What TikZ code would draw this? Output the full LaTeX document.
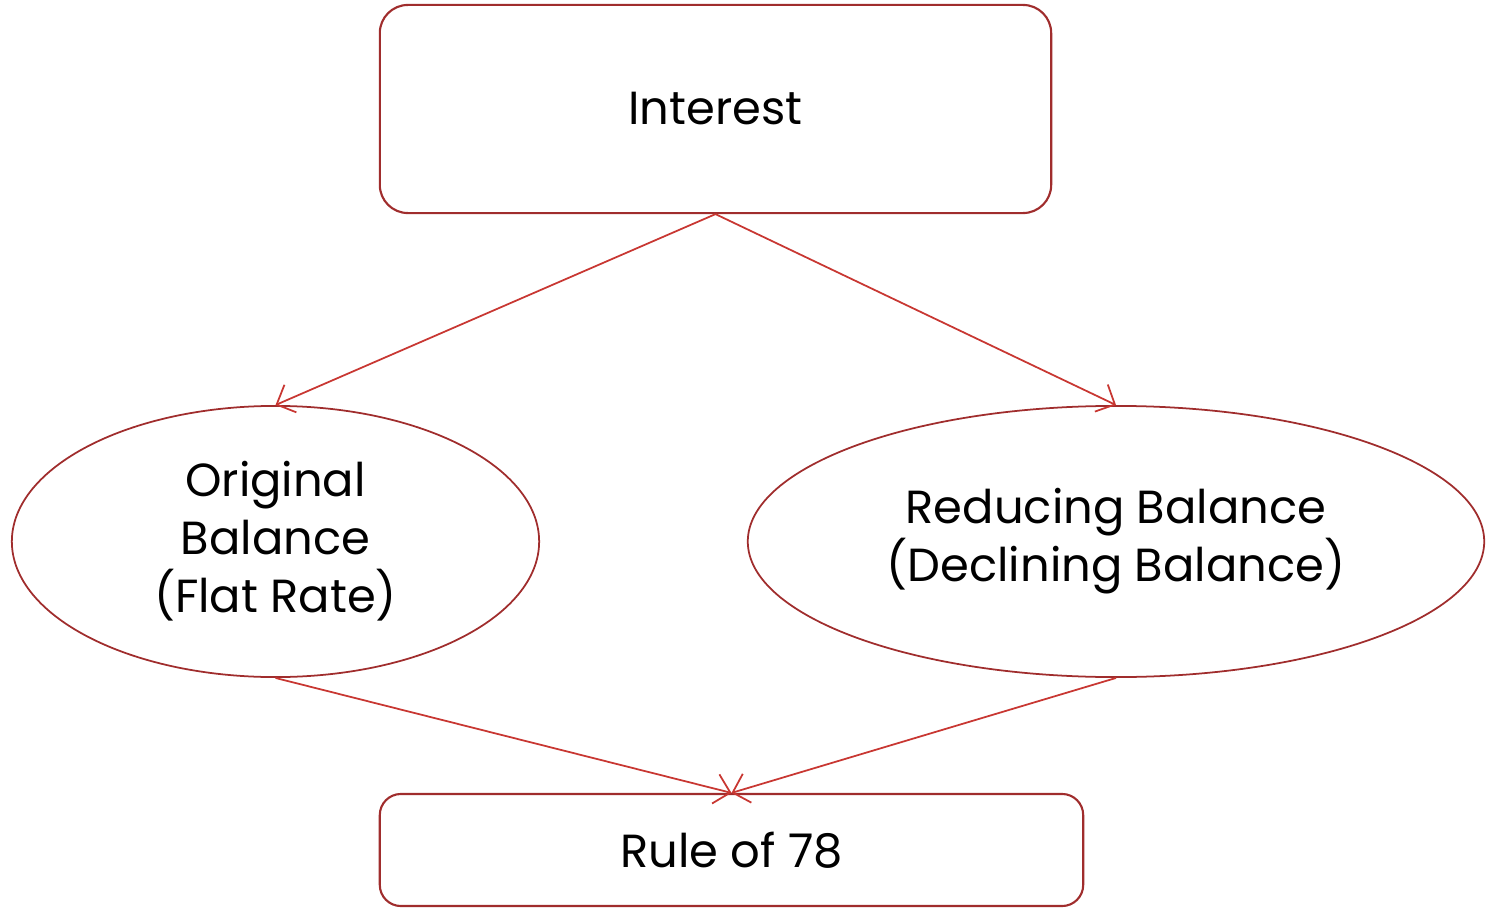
\documentclass[tikz,border=0pt]{standalone}
\usepackage{fontspec}
\setmainfont{Poppins}
\usepackage{tikz}
\usetikzlibrary{arrows.meta, positioning, shapes.geometric}
\definecolor{boxred}{RGB}{160, 45, 45}
\definecolor{linered}{RGB}{200, 55, 50}

\begin{document}
\begin{tikzpicture}[
    x=0.01cm, y=-0.01cm,
    box/.style={rectangle, rounded corners=8pt, draw=boxred, line width=0.6pt, font=\fontsize{13.2}{16.5}\selectfont, align=center},
    oval/.style={ellipse, draw=boxred, line width=0.5pt, inner sep=0pt, font=\fontsize{13.2}{16.5}\selectfont, align=center},
    arrow/.style={-{Straight Barb[length=1.5mm, width=3mm]}, line width=0.5pt, linered}
]
\useasboundingbox (0,0) rectangle (1487,909);

% Top box
\node[box, minimum width=6.71cm, minimum height=2.08cm] (interest) at (715.5,109) {Interest};

% Two ways of charging
\node[oval, minimum width=5.27cm, minimum height=2.71cm] (flat) at (275.5,541.5) {Original\\Balance\\(Flat Rate)};
\node[oval, minimum width=7.36cm, minimum height=2.71cm] (reducing) at (1116,541.5) {Reducing Balance\\(Declining Balance)};

% Bottom box
\node[box, rounded corners=6pt, minimum width=7.03cm, minimum height=1.12cm] (rule) at (731.5,850) {Rule of 78};

\draw[arrow] (interest.south) -- (flat.north);
\draw[arrow] (interest.south) -- (reducing.north);
\draw[arrow] (flat.south) -- (rule.north);
\draw[arrow] (reducing.south) -- (rule.north);

\end{tikzpicture}
\end{document}
